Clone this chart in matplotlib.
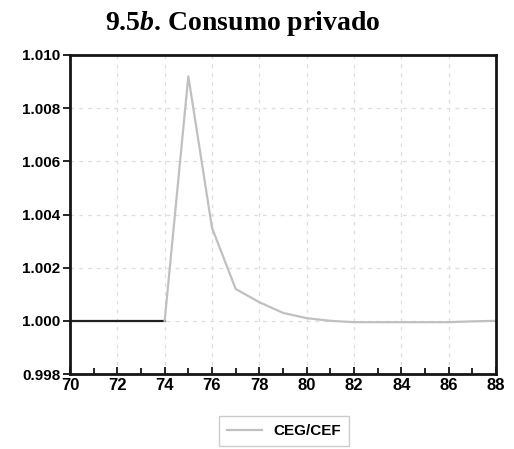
import matplotlib.pyplot as plt
import numpy as np

# datos
anos_base = [70, 71, 72, 73, 74]
valores_base = [1.000, 1.000, 1.000, 1.000, 1.000]

anos = [74, 75, 76, 77, 78, 79, 80, 81, 82, 83, 84, 85, 86, 87, 88]
ceg_cef = [1.0000, 1.0092, 1.0035, 1.0012, 1.0007, 1.0003, 1.0001, 1.0000,
           0.99995, 0.99995, 0.99995, 0.99995, 0.99995, 0.99998, 1.0000]

plt.rcParams['mathtext.fontset'] = 'custom'
plt.rcParams['mathtext.rm'] = 'Liberation Serif:bold'
plt.rcParams['mathtext.bf'] = 'Liberation Serif:bold'
plt.rcParams['mathtext.it'] = 'Liberation Serif:bold:italic'

fig = plt.figure(figsize=(5.14, 4.49), dpi=100)
ax = fig.add_axes([70 / 514, 75 / 449, 426 / 514, 319 / 449])

ax.plot(anos_base, valores_base, color='#202020', lw=1.6)
linea, = ax.plot(anos, ceg_cef, color='#c0c0c0', lw=1.6)

ax.set_xlim(70, 88)
ax.set_ylim(0.998, 1.010)
ax.set_xticks(np.arange(70, 89, 2))
ax.set_xticks(np.arange(71, 88, 2), minor=True)
ax.set_yticks(np.arange(0.998, 1.0101, 0.002))
ax.set_yticklabels(['0.998', '1.000', '1.002', '1.004', '1.006', '1.008', '1.010'])
ax.grid(True, color='#dedede', ls=(0, (3, 4)), lw=0.9)

ax.tick_params(axis='x', direction='in', length=5, width=1.2, pad=3)
ax.tick_params(axis='x', which='minor', direction='in', length=4, width=1.2)
ax.tick_params(axis='y', direction='out', length=5, width=1.2, pad=2)
for s in ax.spines.values():
    s.set_linewidth(2)
    s.set_color('#151515')
for lab in ax.get_xticklabels() + ax.get_yticklabels():
    lab.set_fontfamily('Liberation Sans')
    lab.set_fontweight('bold')
    lab.set_fontsize(11)
ax.tick_params(axis='x', labelsize=12)

fig.text(243 / 514, 1 - 23 / 449, r'9.$\mathit{5b}$. Consumo privado',
         ha='center', va='center', fontsize=20, fontweight='bold',
         family='Liberation Serif')

fig.legend([linea], ['CEG/CEF'], loc='center', bbox_to_anchor=(284 / 514, 1 - 431 / 449),
           prop={'family': 'Liberation Sans', 'weight': 'bold', 'size': 11},
           frameon=True, fancybox=False, edgecolor='#c0c0c0', handlelength=2.3,
           borderpad=0.5)

plt.savefig('out.png', dpi=100)
